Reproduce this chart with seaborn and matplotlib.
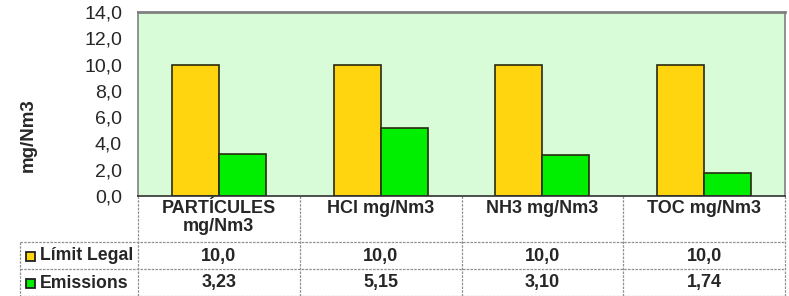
import pandas as pd
import seaborn as sns
import matplotlib.pyplot as plt
from matplotlib.patches import Rectangle
from matplotlib.ticker import FuncFormatter
from matplotlib.transforms import blended_transform_factory

# dades del grafic
categories = ['PARTÍCULES\nmg/Nm3', 'HCl mg/Nm3', 'NH3 mg/Nm3', 'TOC mg/Nm3']
series = ['Límit Legal', 'Emissions']
limit_legal = [10.0, 10.0, 10.0, 10.0]
emissions = [3.23, 5.15, 3.10, 1.74]
y_ticks = [0, 2, 4, 6, 8, 10, 12, 14]

colors = {'Límit Legal': '#FFD50F', 'Emissions': '#00EE00'}


def coma(v, dec):
    return f'{v:.{dec}f}'.replace('.', ',')


df = pd.DataFrame({
    'categoria': categories * 2,
    'serie': [series[0]] * len(categories) + [series[1]] * len(categories),
    'valor': limit_legal + emissions,
})

sns.set_style('white')
plt.rcParams['font.family'] = ['Liberation Sans', 'DejaVu Sans']

W, H = 789, 296
fig = plt.figure(figsize=(W / 100, H / 100), dpi=100)
ax = fig.add_axes([138 / W, 1 - 196 / H, 647 / W, 184 / H])
ax.set_facecolor('#D8FCD8')

sns.barplot(data=df, x='categoria', y='valor', hue='serie', palette=colors,
            width=0.58, saturation=1, edgecolor='#2a2a10', linewidth=1.2,
            legend=False, ax=ax)

ax.set_ylim(0, 14)
ax.set_xlim(-0.5, len(categories) - 0.5)
ax.set_yticks(y_ticks)
ax.yaxis.set_major_formatter(FuncFormatter(lambda v, p: coma(v, 1)))
ax.tick_params(axis='y', labelsize=14, length=0, pad=11.5)
ax.set_xticks([])
ax.set_xlabel('')
ax.set_ylabel('')
for s in ax.spines.values():
    s.set_color('#808080')
    s.set_linewidth(1.2)
ax.spines['top'].set_linewidth(2)
ax.spines['bottom'].set_color('#303030')

fig.text(28 / W, 1 - 135 / H, 'mg/Nm3', rotation=90, ha='center', va='center',
         fontsize=13.5, fontweight='bold')

# taula de dades sota el grafic
tr = blended_transform_factory(ax.transData, fig.transFigure)
fy = lambda py: 1 - py / H
fx = lambda px: px / W

for i, cat in enumerate(categories):
    ax.text(i, fy(200), cat, transform=tr, ha='center', va='top',
            fontsize=13, fontweight='bold', linespacing=1.05)
    ax.text(i, fy(256), coma(limit_legal[i], 1), transform=tr, ha='center',
            va='center', fontsize=13, fontweight='bold')
    ax.text(i, fy(283), coma(emissions[i], 2), transform=tr, ha='center',
            va='center', fontsize=13, fontweight='bold')

# linies de la taula
line_kw = dict(color='#909090', linewidth=0.9, linestyle=(0, (2, 1)))
for py in [242, 269, 295.5]:
    fig.add_artist(plt.Line2D([fx(20), fx(785)], [fy(py), fy(py)], **line_kw))
fig.add_artist(plt.Line2D([fx(20), fx(20)], [fy(242), fy(296)], **line_kw))
for k in range(len(categories) + 1):
    xk = -0.5 + k
    ax.plot([xk, xk], [fy(196), fy(296)], transform=tr, clip_on=False, **line_kw)

# etiquetes de les files amb el quadre de color
for py, serie in zip([256, 283], series):
    fig.add_artist(Rectangle((fx(26), fy(py + 4.5)), 9 / W, 9 / H,
                             transform=fig.transFigure, facecolor=colors[serie],
                             edgecolor='#202020', linewidth=1.3))
    fig.text(fx(40), fy(py), serie, ha='left', va='center',
             fontsize=12.7, fontweight='bold')

fig.savefig('out.png', dpi=100)
